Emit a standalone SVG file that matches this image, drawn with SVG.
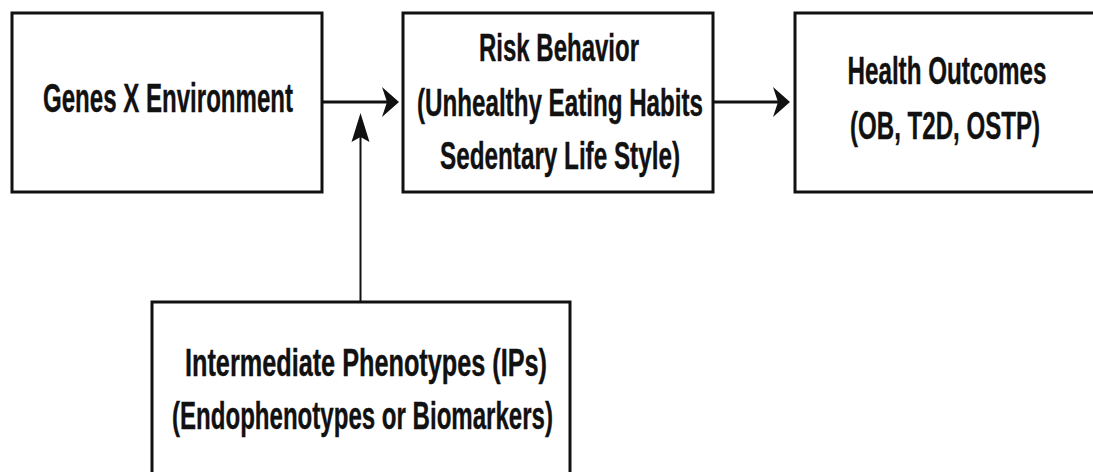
<svg xmlns="http://www.w3.org/2000/svg" width="1093" height="472" viewBox="0 0 1093 472">
  <style>
    .box { fill: #ffffff; stroke: #111111; stroke-width: 3; }
    .lbl { font-family: "Liberation Sans", Arial, sans-serif; font-weight: bold; font-size: 38px; fill: #111111; text-anchor: middle; stroke: #111111; stroke-width: 0.4; }
    .big { font-size: 40px; }
    .edge { stroke: #111111; stroke-width: 3; fill: none; }
    .edge-v { stroke: #111111; stroke-width: 2; fill: none; }
    .head { fill: #111111; stroke: none; }
  </style>
  <rect x="0" y="0" width="1093" height="472" fill="#ffffff"/>
  <g id="connectors">
    <line class="edge" x1="322" y1="102" x2="388" y2="102"/>
    <path class="head" d="M399,102 L382,87 L387,102 L382,117 Z"/>
    <line class="edge" x1="713" y1="102" x2="778" y2="102"/>
    <path class="head" d="M790,102 L773,87 L778,102 L773,117 Z"/>
    <line class="edge-v" x1="360.5" y1="302" x2="360.5" y2="130"/>
    <path class="head" d="M360.5,113 L351.5,142 L360.5,137 L369.5,142 Z"/>
  </g>
  <g id="node-genes">
    <rect class="box" x="12" y="13" width="310" height="179"/>
    <text class="lbl big" transform="translate(168,112) scale(0.64,1)" x="0" y="0" textLength="390.6" lengthAdjust="spacingAndGlyphs">Genes X Environment</text>
  </g>
  <g id="node-risk">
    <rect class="box" x="403" y="13" width="310" height="179"/>
    <text class="lbl" transform="translate(559,61) scale(0.64,1)" x="0" y="0" textLength="250" lengthAdjust="spacingAndGlyphs">Risk Behavior</text>
    <text class="lbl" transform="translate(560,116) scale(0.64,1)" x="0" y="0" textLength="446.9" lengthAdjust="spacingAndGlyphs">(Unhealthy Eating Habits</text>
    <text class="lbl" transform="translate(560,169) scale(0.64,1)" x="0" y="0" textLength="375" lengthAdjust="spacingAndGlyphs">Sedentary Life Style)</text>
  </g>
  <g id="node-health">
    <rect class="box" x="795" y="13" width="310" height="179"/>
    <text class="lbl" transform="translate(947,84) scale(0.64,1)" x="0" y="0" textLength="310.9" lengthAdjust="spacingAndGlyphs">Health Outcomes</text>
    <text class="lbl" transform="translate(945,139) scale(0.64,1)" x="0" y="0" textLength="296.9" lengthAdjust="spacingAndGlyphs">(OB, T2D, OSTP)</text>
  </g>
  <g id="node-ips">
    <rect class="box" x="152" y="302" width="418" height="190"/>
    <text class="lbl" transform="translate(366,376) scale(0.64,1)" x="0" y="0" textLength="565.6" lengthAdjust="spacingAndGlyphs">Intermediate Phenotypes (IPs)</text>
    <text class="lbl" transform="translate(362.5,429) scale(0.64,1)" x="0" y="0" textLength="595.3" lengthAdjust="spacingAndGlyphs">(Endophenotypes or Biomarkers)</text>
  </g>
</svg>
